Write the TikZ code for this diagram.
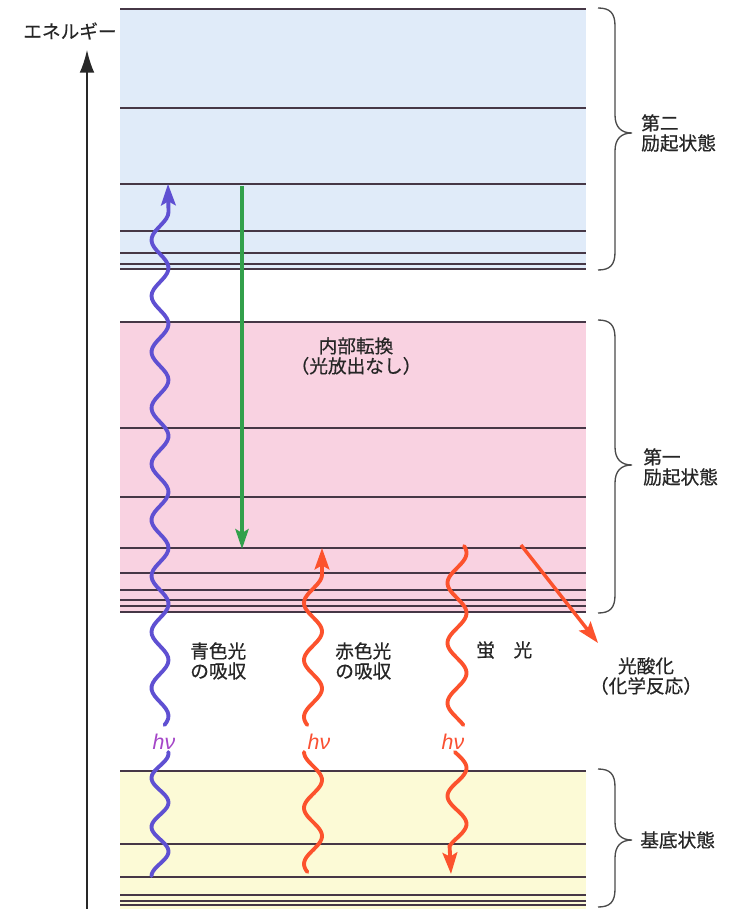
\documentclass[tikz,border=0pt]{standalone}
\usepackage{fontspec}
\newfontfamily\jp{Noto Sans CJK JP}[FakeBold=0.5]
\newfontfamily\hnuf{Liberation Sans}
\usetikzlibrary{arrows.meta}
\definecolor{bandBlue}{RGB}{224,235,249}
\definecolor{bandPink}{RGB}{249,210,225}
\definecolor{bandYellow}{RGB}{252,250,214}
\definecolor{levelC}{RGB}{70,55,70}
\definecolor{waveBlue}{RGB}{95,80,210}
\definecolor{waveRed}{RGB}{252,82,45}
\definecolor{hnuPurple}{RGB}{165,70,200}
\definecolor{hnuRed}{RGB}{250,80,50}
\definecolor{greenA}{RGB}{50,160,75}
\definecolor{braceC}{RGB}{75,75,75}
\definecolor{axisC}{RGB}{40,40,40}
\newcommand\brc[3]{%
 \draw[bracestyle] (598,#1) .. controls (610,#1) and (615,#1+5) .. (615,#1+18)
   -- (615,#2-18) .. controls (615,#2-6) and (621,#2) .. (632,#2)
   .. controls (621,#2) and (615,#2+6) .. (615,#2+18)
   -- (615,#3-18) .. controls (615,#3-5) and (610,#3) .. (598,#3);}
\begin{document}
\begin{tikzpicture}[x=0.75pt,y=-0.75pt,
  levelline/.style={draw=levelC,line width=1.1pt},
  bracestyle/.style={draw=braceC,line width=1pt},
  jptext/.style={inner sep=0pt,font=\jp\fontsize{14pt}{15pt}\selectfont,text=black!85},
  hnu/.style={inner sep=0pt,font=\hnuf\itshape\fontsize{16pt}{16pt}\selectfont},
  bluewave/.style={draw=waveBlue,line width=2.9pt,line cap=round},
  redwave/.style={draw=waveRed,line width=2.9pt,line cap=round},
  wavehead/.style={-{Stealth[length=16pt,width=11pt,inset=3pt]}},
  greenarrow/.style={draw=greenA,line width=2.4pt,-{Stealth[length=15pt,width=10pt,inset=3pt]}},
  redarrow/.style={draw=waveRed,line width=2.6pt,-{Stealth[length=16pt,width=11pt,inset=3pt]}},
  axisarrow/.style={draw=axisC,line width=1.1pt,-{Latex[length=17pt,width=11pt]}}
]
\fill[white] (0,0) rectangle (728,909);
\useasboundingbox (0,0) rectangle (728,909);
% bands
\fill[bandBlue] (120,8) rectangle (586,270);
\fill[bandPink] (120,321) rectangle (586,613);
\fill[bandYellow] (120,770) rectangle (586,909);
% levels
\foreach \yy in {9,108,184,231,253,264,269} \draw[levelline] (120,\yy) -- (586,\yy);
\foreach \yy in {322,428,497,548,573,590,600,606,612} \draw[levelline] (120,\yy) -- (586,\yy);
\foreach \yy in {771,844,877,895,901,905} \draw[levelline] (120,\yy) -- (586,\yy);
% braces
\brc{8}{133}{270}
\brc{320}{465}{613}
\brc{769}{840}{907}
% brace labels
\node[jptext,anchor=west,align=left] (s2) at (641,133) {第二\\励起状態};
\node[jptext,anchor=west,align=left] (s1) at (643,467) {第一\\励起状態};
\node[jptext,anchor=west] (s0) at (640,840) {基底状態};
% energy axis
\coordinate (axBot) at (87,909);
\coordinate (axTop) at (87,50);
\draw[axisarrow] (axBot) -- (axTop);
\node[jptext] (energy) at (70,31) {エネルギー};
% green internal conversion arrow
\coordinate (gStart) at (242,186);
\coordinate (gTip) at (242,549);
\draw[greenarrow] (gStart) -- (gTip);
\node[jptext,align=center] (ic) at (356,356) {内部転換\\（光放出なし）};
% red photo-oxidation arrow
\coordinate (rStart) at (521,545);
\coordinate (rTip) at (598,643);
\draw[redarrow] (rStart) -- (rTip);
\node[jptext,align=center] (pox) at (646,676) {光酸化\\（化学反応）};
% blue absorption
\coordinate (blueTip) at (168,184);
\draw[bluewave,wavehead] plot[domain=725:212,samples=160,variable=\t] ({160-8.5*cos((\t-240)/56*360)},\t) -- (blueTip);
\draw[bluewave] plot[domain=752:876,samples=60,variable=\t] ({160-8.5*cos((\t-778)/49*360)},\t);
\node[hnu,text=hnuPurple] (hnuB) at (164,742) {hν};
\node[jptext,anchor=west,align=left] (labB) at (190,661) {青色光\\の吸収};
% red absorption
\coordinate (redTip) at (322,548);
\draw[redwave,wavehead] plot[domain=725:575,samples=80,variable=\t] ({313-9*cos((\t-603)/57*360)},\t) -- (redTip);
\draw[redwave] plot[domain=752:872,samples=60,variable=\t] ({313-9*cos((\t-752)/56*360)},\t);
\node[hnu,text=hnuRed] (hnuR) at (319,742) {hν};
\node[jptext,anchor=west,align=left] (labR) at (335,661) {赤色光\\の吸収};
% fluorescence
\coordinate (fluoTip) at (451,874);
\draw[redwave] plot[domain=546:725,samples=90,variable=\t] ({457-9.5*cos((\t-583)/60*360)},\t);
\draw[redwave,wavehead] plot[domain=752:846,samples=50,variable=\t] ({457+9.5*cos((\t-768)/56*360)},\t) -- (fluoTip);
\node[hnu,text=hnuRed] (hnuF) at (453,742) {hν};
\node[jptext,anchor=west] (labF) at (476,650) {蛍　光};
\end{tikzpicture}
\end{document}
